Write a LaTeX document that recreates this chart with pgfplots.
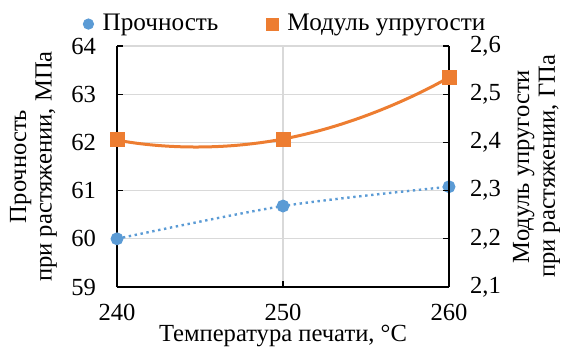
\documentclass[border=0pt]{standalone}
\usepackage{fontspec}
\setmainfont{Liberation Serif}
\newfontfamily\tnr{Liberation Serif}
\usepackage{pgfplots}
\pgfplotsset{compat=1.18}
\definecolor{cblue}{HTML}{5B9BD5}
\definecolor{corange}{HTML}{ED7D31}
\definecolor{cgrid}{HTML}{D9D9D9}
\begin{document}
\begin{tikzpicture}
\pgfplotsset{
  every axis/.append style={
    scale only axis, width=166pt, height=120.5pt,
    xmin=240, xmax=260,
    font=\tnr\fontsize{12.3}{12.8}\selectfont,
    tick align=inside, major tick length=3pt,
    /pgf/number format/assume math mode=true,
    every tick/.style={black, line width=0.6pt},
    axis line style={black, line width=0.8pt},
  },
}
\begin{axis}[name=ax,
  axis y line*=left, axis x line*=bottom,
  ymin=59, ymax=64, ytick={59,60,61,62,63,64},
  xtick={240,250,260},
  ymajorgrids, xmajorgrids, grid style={cgrid, line width=0.6pt},
  xticklabel style={inner sep=1pt, yshift=-7.3pt},
  yticklabel style={xshift=-7pt},
  xlabel={Температура печати, °C},
  xlabel style={at={(axis description cs:0.5,-0.205)}, anchor=center, inner sep=0pt},
  ylabel={Прочность\\при растяжении, МПа},
  ylabel style={at={(axis description cs:-0.2515,0.5)}, anchor=center, align=center},
  legend style={at={(0.51,1.091)}, anchor=center, draw=none, fill=none,
    legend columns=2, font=\tnr\fontsize{12.6}{13}\selectfont,
    /tikz/every even column/.append style={column sep=22pt},
    /tikz/every odd column/.append style={column sep=2.5pt}},
]
\addplot[cblue, line width=1.2pt, dash pattern=on 1.2pt off 1.8pt, smooth, mark=*, mark size=2.6pt, mark options={solid}, forget plot]
  coordinates {(240,60.0) (250,60.68) (260,61.08)};
\addlegendimage{only marks, mark=*, mark size=2.6pt, cblue}
\addlegendentry{Прочность}
\addlegendimage{only marks, mark=square*, mark size=3pt, corange}
\addlegendentry{Модуль упругости}
\end{axis}
\begin{axis}[
  axis y line*=right, axis x line=none,
  ymin=2.1, ymax=2.6, ytick={2.1,2.2,2.3,2.4,2.5,2.6},
  yticklabel style={xshift=7pt},
  y tick label style={/pgf/number format/fixed, /pgf/number format/fixed zerofill, /pgf/number format/precision=1, /pgf/number format/use comma},
  ylabel={Модуль упругости\\при растяжении, ГПа},
  ylabel style={at={(axis description cs:1.2636,0.5)}, anchor=center, align=center},
]
\addplot[corange, line width=1.5pt, smooth, tension=1, mark=square*, mark size=3pt]
  coordinates {(240,2.405) (250,2.407) (260,2.535)};
\end{axis}
\pgfresetboundingbox
\path ([shift={(-58.5pt,-30pt)}]ax.south west) rectangle ([shift={(224.5pt,143.5pt)}]ax.south west);
\end{tikzpicture}
\end{document}
